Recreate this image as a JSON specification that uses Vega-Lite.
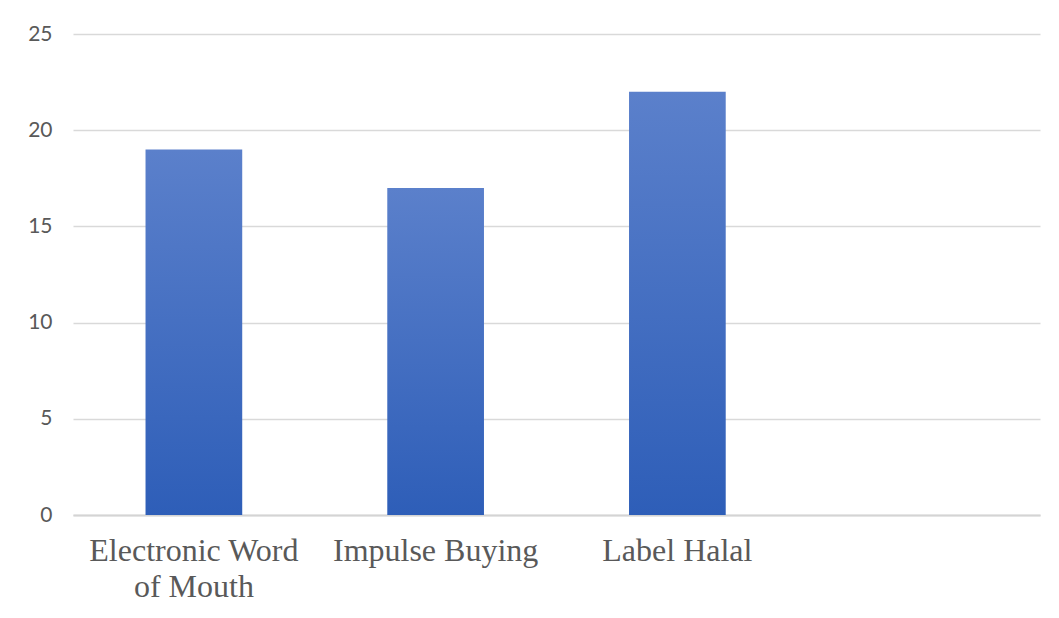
{
  "$schema": "https://vega.github.io/schema/vega-lite/v6.json",
  "width": 967,
  "height": 481,
  "autosize": {"type": "none"},
  "padding": {"left": 73, "top": 34, "right": 19, "bottom": 103},
  "background": "white",
  "config": {"view": {"stroke": null}},
  "data": {"values": [
    {"category": "Electronic Word of Mouth", "value": 19},
    {"category": "Impulse Buying", "value": 17},
    {"category": "Label Halal", "value": 22}
  ]},
  "mark": {
    "type": "bar",
    "color": {"gradient": "linear", "x1": 0, "y1": 0, "x2": 0, "y2": 1,
      "stops": [{"offset": 0, "color": "#5B80CB"}, {"offset": 1, "color": "#2E5EB8"}]}
  },
  "encoding": {
    "x": {
      "field": "category", "type": "nominal", "sort": null, "title": null,
      "scale": {"domain": ["Electronic Word of Mouth", "Impulse Buying", "Label Halal", " "], "paddingInner": 0.6, "paddingOuter": 0.3},
      "axis": {
        "domain": true, "domainColor": "#D4D4D4", "domainWidth": 2,
        "ticks": false, "labelAngle": 0, "labelLimit": 0,
        "labelFont": "Liberation Serif", "labelFontSize": 32, "labelColor": "#595959",
        "labelPadding": 20, "labelLineHeight": 36.5, "labelBaseline": "top",
        "labelExpr": "datum.label == 'Electronic Word of Mouth' ? ['Electronic Word', 'of Mouth'] : datum.label"
      }
    },
    "y": {
      "field": "value", "type": "quantitative", "title": null,
      "scale": {"domain": [0, 25]},
      "axis": {
        "values": [0, 5, 10, 15, 20, 25], "domain": false, "ticks": false,
        "labelFont": "Lato", "labelFontSize": 21, "labelColor": "#595959", "labelPadding": 21,
        "gridColor": "#D9D9D9", "gridWidth": 1.5
      }
    }
  }
}
